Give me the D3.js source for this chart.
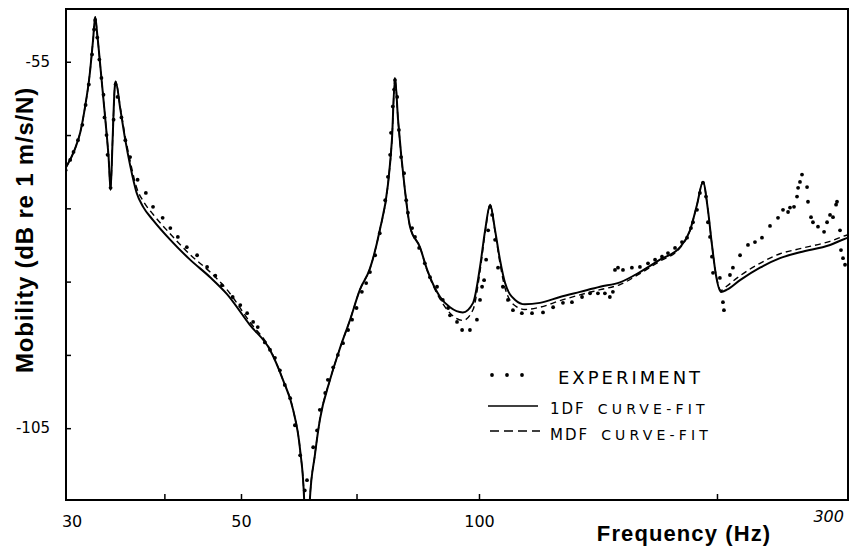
<!DOCTYPE html>
<html>
<head>
<meta charset="utf-8">
<script src="https://cdnjs.cloudflare.com/ajax/libs/d3/7.8.5/d3.min.js"></script>
<style>
  body { margin: 0; background: #fff; }
  svg { display: block; }
</style>
</head>
<body>
<div id="chart"></div>
<script>
// curve-fit frequencies (Hz) and the two fitted mobilities (dB)
const fitFreq = [
  30.0, 30.8, 31.3, 31.7, 32.2, 32.5, 32.7, 32.9, 33.2, 33.5,
  33.8, 34.0, 34.2, 34.4, 34.6, 34.7, 35.2, 35.7, 36.2, 36.9,
  37.6, 38.7, 40.7, 43.1, 45.7, 48.0, 51.3, 54.4, 56.5, 58.2,
  59.4, 60.1, 60.6, 61.1, 62.0, 62.9, 64.8, 66.7, 68.7, 70.7,
  72.8, 74.9, 76.7, 77.6, 78.3, 79.0, 80.6, 81.8, 84.2, 86.0,
  89.3, 91.9, 95.4, 98.3, 100.3, 101.8, 103.3, 104.8, 106.3, 107.9,
  111.1, 114.3, 119.4, 126.6, 134.2, 142.3, 150.8, 159.8, 169.4, 179.6,
  184.9, 188.7, 192.0, 194.8, 197.1, 199.4, 202.4, 205.9, 213.9, 226.7,
  240.3, 254.7, 278.0, 292.9, 300
];
const fit1DF = [
  -69.5, -67.0, -64.7, -61.6, -56.5, -52.0, -48.9, -51.3, -55.7, -60.2,
  -64.7, -68.0, -72.5, -65.7, -58.8, -57.7, -61.6, -65.7, -69.1, -72.9,
  -74.8, -76.6, -79.3, -82.0, -84.4, -86.7, -90.9, -94.3, -98.4, -102.5,
  -108.0, -114.8, -130, -114.8, -108.7, -103.9, -98.4, -94.1, -90.2, -86.1,
  -83.2, -78.0, -71.8, -65.7, -57.2, -62.9, -72.5, -77.5, -80.3, -83.4,
  -87.1, -88.5, -89.2, -87.9, -83.0, -78.0, -74.5, -78.0, -82.0, -85.2,
  -87.5, -88.1, -87.9, -87.1, -86.4, -85.7, -85.1, -83.7, -82.0, -80.3,
  -78.0, -74.5, -71.4, -75.2, -80.0, -84.1, -86.4, -86.1, -84.8, -83.1,
  -81.8, -81.0, -80.0, -79.0, -78.7
];
const fitMDF = [
  -69.5, -67.0, -64.7, -61.6, -56.5, -52.0, -48.9, -51.3, -55.7, -60.2,
  -64.7, -68.0, -72.3, -65.7, -58.8, -57.7, -61.4, -65.3, -68.5, -72.2,
  -74.0, -75.8, -78.5, -81.3, -83.7, -86.1, -90.5, -94.2, -98.4, -102.5,
  -108.0, -114.8, -130, -114.8, -108.7, -103.9, -98.4, -94.1, -90.2, -86.1,
  -83.2, -78.0, -71.8, -65.7, -57.2, -62.9, -72.5, -77.5, -80.3, -83.5,
  -87.4, -89.3, -90.3, -88.8, -83.6, -78.3, -74.6, -78.2, -82.5, -85.9,
  -88.3, -88.8, -88.5, -87.6, -86.8, -86.1, -85.4, -83.9, -82.2, -80.4,
  -78.0, -74.5, -71.4, -75.2, -80.0, -84.0, -86.2, -85.6, -84.2, -82.5,
  -81.2, -80.5, -79.5, -78.6, -78.3
];

// measured points
const expFreq = [
  30.0, 30.4, 30.7, 31.1, 31.5, 31.8, 32.1, 32.4, 32.6, 32.7,
  32.9, 33.1, 33.3, 33.5, 33.6, 33.8, 33.9, 34.2, 34.5, 34.7,
  34.9, 35.3, 35.7, 36.2, 37.0, 37.9, 38.7, 39.8, 40.7, 41.6,
  42.7, 44.0, 45.3, 46.4, 47.3, 48.8, 49.9, 50.9, 51.8, 52.5,
  53.6, 54.4, 55.2, 56.0, 56.8, 57.7, 58.5, 59.4, 60.2, 60.6,
  61.7, 62.4, 62.9, 63.9, 64.4, 65.4, 66.3, 67.3, 68.3, 69.1,
  70.0, 71.1, 72.0, 72.8, 73.9, 74.9, 76.1, 76.7, 77.2, 77.4,
  77.8, 78.1, 78.3, 78.8, 79.2, 79.7, 80.4, 80.9, 81.3, 82.3,
  83.0, 84.0, 85.4, 86.7, 88.5, 90.0, 91.4, 91.9, 93.8, 95.2,
  97.4, 99.4, 100.3, 100.9, 101.5, 102.1, 102.7, 103.3, 103.9, 104.8,
  105.7, 107.2, 108.8, 110.4, 113.3, 116.7, 120.5, 124.1, 127.7, 131.1,
  135.0, 138.2, 141.4, 144.3, 146.4, 147.7, 148.6, 149.9, 152.1, 156.1,
  159.8, 163.6, 167.0, 170.4, 173.4, 177.0, 180.6, 183.3, 185.4, 186.5,
  188.7, 190.3, 192.0, 193.7, 194.8, 196.0, 197.1, 197.7, 201.7, 203.5,
  204.1, 207.7, 209.5, 213.9, 218.9, 223.4, 228.0, 233.4, 238.9, 242.4,
  246.0, 247.4, 250.3, 252.5, 253.3, 254.7, 256.2, 260.0, 260.7, 263.0,
  264.5, 268.4, 273.2, 275.6, 278.0, 280.4, 282.9, 283.7, 286.2, 287.0,
  288.7, 290.4
];
const expDb = [
  -69.8, -68.4, -67.3, -65.7, -63.6, -60.9, -58.1, -54.0, -50.6, -49.3,
  -51.7, -54.7, -57.2, -59.5, -62.6, -65.0, -67.7, -72.2, -62.9, -58.1,
  -59.8, -62.6, -65.7, -68.0, -71.1, -72.9, -74.8, -76.3, -77.7, -78.9,
  -80.3, -81.4, -83.0, -84.2, -85.5, -87.1, -88.2, -89.3, -90.5, -91.2,
  -93.3, -94.3, -95.4, -97.1, -99.1, -100.9, -104.6, -108.7, -113.5, -112.1,
  -107.6, -105.3, -102.5, -100.2, -98.4, -96.7, -95.0, -93.4, -91.6, -90.2,
  -88.6, -86.4, -85.2, -83.7, -81.4, -78.4, -73.9, -70.7, -67.7, -64.7,
  -61.1, -58.8, -57.5, -59.8, -64.3, -68.0, -70.2, -73.9, -75.6, -77.7,
  -78.9, -80.4, -82.5, -84.4, -85.7, -87.5, -88.6, -89.6, -90.5, -91.6,
  -91.6, -90.2, -87.5, -85.7, -84.8, -82.0, -78.0, -74.8, -75.9, -79.3,
  -83.1, -85.7, -87.5, -88.9, -89.3, -89.3, -89.2, -88.5, -87.9, -87.8,
  -87.1, -86.6, -86.6, -86.6, -87.1, -86.4, -83.4, -83.1, -83.4, -83.1,
  -83.0, -82.5, -82.0, -81.6, -81.1, -80.4, -79.6, -79.0, -77.7, -76.9,
  -75.2, -72.9, -71.5, -73.4, -76.9, -78.9, -81.6, -83.8, -84.5, -87.8,
  -88.9, -84.1, -83.1, -81.4, -80.0, -79.6, -79.0, -77.4, -76.3, -75.2,
  -75.5, -74.9, -74.8, -73.4, -72.2, -71.4, -70.4, -72.1, -74.1, -76.2,
  -76.9, -77.5, -78.2, -76.9, -75.9, -76.2, -74.5, -74.1, -78.0, -80.7,
  -81.8, -82.7
];

const yTicks = [-55, -65, -75, -85, -95, -105];
const yLabelled = [-55, -105];
const xTicks = [40, 50, 70, 100, 200];
const xLabels = [30, 50, 100, 300];
const legendNames = ["EXPERIMENT", "1DF", "MDF"];

const width = 849, height = 546;
const plot = { left: 66, right: 848, top: 9, bottom: 500 };

const svg = d3.select("#chart").append("svg")
  .attr("width", width)
  .attr("height", height);

// 30 Hz sits on the left edge, 300 Hz falls just past the cropped right edge
const x = d3.scaleLog().domain([30, 300]).range([65.6, 856.2]);
const y = d3.scaleLinear().domain([-114.8, -47.8]).range([plot.bottom, plot.top]);

svg.append("clipPath").attr("id", "clip")
  .append("rect")
  .attr("x", plot.left).attr("y", plot.top)
  .attr("width", plot.right - plot.left)
  .attr("height", plot.bottom - plot.top);

// frame
svg.append("rect")
  .attr("x", plot.left).attr("y", plot.top)
  .attr("width", plot.right - plot.left)
  .attr("height", plot.bottom - plot.top)
  .attr("fill", "none")
  .attr("stroke", "#000")
  .attr("stroke-width", 2);

// inward ticks on the left
const yAxis = svg.append("g")
  .attr("transform", "translate(" + plot.left + ",0)")
  .call(d3.axisLeft(y).tickValues(yTicks).tickSize(-5).tickPadding(16)
    .tickFormat(d => yLabelled.includes(d) ? String(d) : ""));
yAxis.select(".domain").remove();
yAxis.selectAll("line").attr("stroke", "#000").attr("stroke-width", 1.5);
yAxis.selectAll("text")
  .style("font-family", "DejaVu Sans, sans-serif")
  .style("font-size", "15px")
  .attr("fill", "#000");

// inward ticks on the bottom
const xTickAxis = svg.append("g")
  .attr("transform", "translate(0," + plot.bottom + ")")
  .call(d3.axisBottom(x).tickValues(xTicks).tickSize(-6).tickFormat(""));
xTickAxis.select(".domain").remove();
xTickAxis.selectAll("line").attr("stroke", "#000").attr("stroke-width", 1.5);

// bottom labels
const xLabelAxis = svg.append("g")
  .attr("transform", "translate(0," + plot.bottom + ")")
  .call(d3.axisBottom(x).tickValues(xLabels).tickSize(0).tickPadding(16)
    .tickFormat(d3.format("d")));
xLabelAxis.select(".domain").remove();
xLabelAxis.selectAll("text")
  .style("font-family", "DejaVu Sans, sans-serif")
  .style("font-size", "16px")
  .attr("fill", "#000");
xLabelAxis.selectAll(".tick")
  .filter(d => d === 30).select("text").attr("dx", 6);
xLabelAxis.selectAll(".tick")
  .filter(d => d === 300).select("text")
  .attr("dx", -28).attr("dy", "0.35em")
  .style("font-style", "italic");

// axis titles
svg.append("text")
  .attr("transform", "translate(33,230) rotate(-90)")
  .attr("text-anchor", "middle")
  .style("font-family", "Liberation Sans, Arial, sans-serif")
  .style("font-weight", "bold")
  .style("font-size", "24px")
  .style("letter-spacing", "0.8px")
  .text("Mobility (dB re 1 m/s/N)");

svg.append("text")
  .attr("x", 684).attr("y", 541)
  .attr("text-anchor", "middle")
  .style("font-family", "Liberation Sans, Arial, sans-serif")
  .style("font-weight", "bold")
  .style("font-size", "22px")
  .style("letter-spacing", "1.1px")
  .text("Frequency (Hz)");

// curves
const fitLine = (vals) => d3.line()
  .x((d, i) => x(fitFreq[i]))
  .y(d => y(d))
  .curve(d3.curveMonotoneX)(vals);

const plotArea = svg.append("g").attr("clip-path", "url(#clip)");

plotArea.append("path")
  .attr("d", fitLine(fitMDF))
  .attr("fill", "none")
  .attr("stroke", "#000")
  .attr("stroke-width", 1.4)
  .attr("stroke-dasharray", "6,4");

plotArea.append("path")
  .attr("d", fitLine(fit1DF))
  .attr("fill", "none")
  .attr("stroke", "#000")
  .attr("stroke-width", 2);

plotArea.selectAll("circle.exp")
  .data(expFreq)
  .enter()
  .append("circle")
  .attr("class", "exp")
  .attr("cx", d => x(d))
  .attr("cy", (d, i) => y(expDb[i]))
  .attr("r", 1.9)
  .attr("fill", "#000");

// legend
const legend = svg.append("g").attr("transform", "translate(488,375)");
const legendFont = "DejaVu Sans, sans-serif";

legend.selectAll("circle")
  .data([4, 19, 34])
  .enter()
  .append("circle")
  .attr("cx", d => d)
  .attr("cy", 0)
  .attr("r", 1.9)
  .attr("fill", "#000");

legend.append("line")
  .attr("x1", 0).attr("x2", 50).attr("y1", 31).attr("y2", 31)
  .attr("stroke", "#000").attr("stroke-width", 1.6);

legend.append("line")
  .attr("x1", 2).attr("x2", 52).attr("y1", 56).attr("y2", 56)
  .attr("stroke", "#000").attr("stroke-width", 1.6)
  .attr("stroke-dasharray", "9,5");

legend.append("text")
  .attr("x", 70).attr("y", 9)
  .style("font-family", legendFont)
  .style("font-size", "18px")
  .style("letter-spacing", "3px")
  .text(legendNames[0]);

[legendNames[1], legendNames[2]].forEach((name, i) => {
  const t = legend.append("text")
    .attr("x", 62).attr("y", 39 + i * 26)
    .style("font-family", legendFont);
  t.append("tspan")
    .style("font-size", "15px")
    .style("letter-spacing", "2px")
    .text(name);
  t.append("tspan")
    .attr("dx", 12)
    .style("font-size", "14px")
    .style("letter-spacing", "4.2px")
    .text("CURVE-FIT");
});
</script>
</body>
</html>
